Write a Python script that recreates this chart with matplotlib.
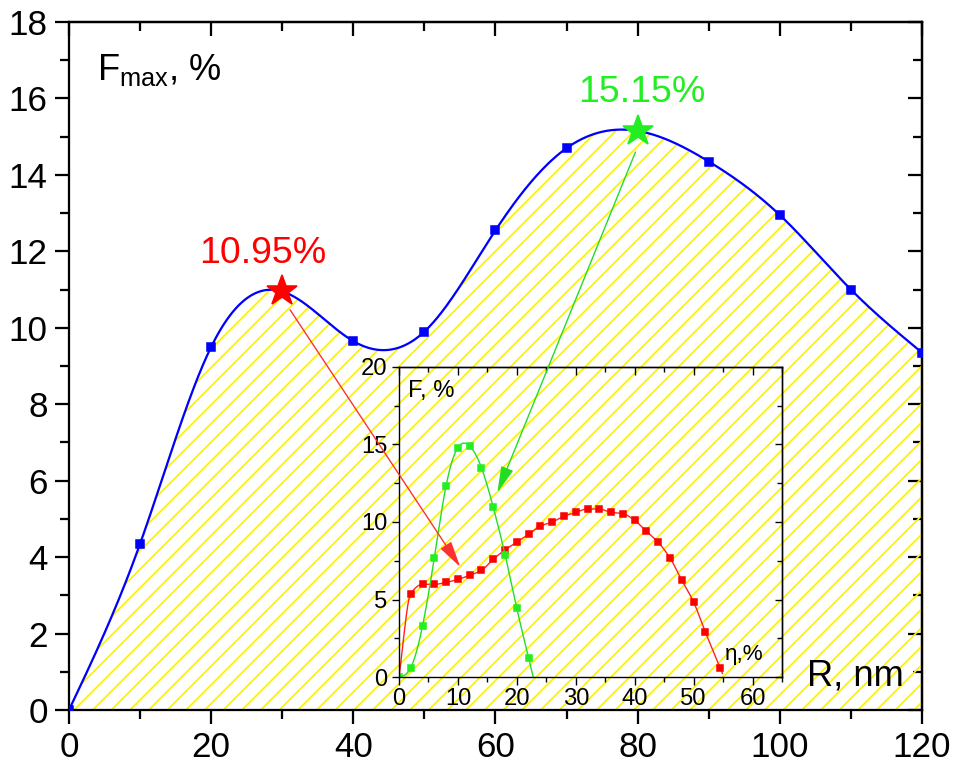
import numpy as np
import matplotlib
matplotlib.use('Agg')
import matplotlib.pyplot as plt
from matplotlib.patches import ConnectionPatch
from matplotlib.ticker import MultipleLocator

DPI = 112
S = 90 / DPI  # sizes below were tuned at 90 dpi

plt.rcParams['font.family'] = ['Liberation Sans', 'DejaVu Sans']
plt.rcParams['mathtext.fontset'] = 'custom'
plt.rcParams['mathtext.rm'] = 'Liberation Sans'
plt.rcParams['hatch.linewidth'] = 1.35 * S

# main curve: F_max vs R
R = [0, 10, 20, 30, 40, 50, 60, 70, 80, 90, 100, 110, 120]
Fmax = [0, 4.35, 9.5, 10.95, 9.65, 9.9, 12.55, 14.7, 15.15, 14.35, 12.95, 11.0, 9.35]
peak_red = (30, 10.95)
peak_green = (80, 15.15)

# inset curves: F vs eta
eta_red = [0, 2, 4, 6, 8, 10, 12, 14, 16, 18, 20, 22, 24, 26, 28, 30, 32, 34,
           36, 38, 40, 42, 44, 46, 48, 50, 52, 54.5]
F_red = [0, 5.38, 5.98, 5.98, 6.1, 6.3, 6.56, 6.88, 7.6, 8.2, 8.7, 9.2, 9.74, 10.0,
         10.37, 10.62, 10.84, 10.84, 10.62, 10.54, 10.1, 9.4, 8.69, 7.68, 6.24,
         4.84, 2.9, 0.6]
eta_green = [0, 2, 4, 6, 8, 10, 12, 14, 16, 18, 20, 22]
F_green = [0, 0.6, 3.3, 7.7, 12.35, 14.8, 14.9, 13.5, 10.95, 7.9, 4.43, 1.23]


# natural cubic spline, just for drawing smooth lines through the points
def spline(x, y, xs):
    x = np.asarray(x, float)
    y = np.asarray(y, float)
    n = len(x)
    h = np.diff(x)
    A = np.zeros((n, n))
    b = np.zeros(n)
    A[0, 0] = A[-1, -1] = 1
    for i in range(1, n - 1):
        A[i, i - 1] = h[i - 1]
        A[i, i] = 2 * (h[i - 1] + h[i])
        A[i, i + 1] = h[i]
        b[i] = 6 * ((y[i + 1] - y[i]) / h[i] - (y[i] - y[i - 1]) / h[i - 1])
    M = np.linalg.solve(A, b)
    idx = np.clip(np.searchsorted(x, xs) - 1, 0, n - 2)
    x0, x1 = x[idx], x[idx + 1]
    hh = x1 - x0
    t0, t1 = x1 - xs, xs - x0
    return (M[idx] * t0 ** 3 + M[idx + 1] * t1 ** 3) / (6 * hh) \
        + (y[idx] / hh - M[idx] * hh / 6) * t0 + (y[idx + 1] / hh - M[idx + 1] * hh / 6) * t1


# monotone cubic (Fritsch-Carlson), no overshoot near the steep start of the red curve
def pchip(x, y, xs):
    x = np.asarray(x, float)
    y = np.asarray(y, float)
    h = np.diff(x)
    d = np.diff(y) / h
    m = np.zeros_like(y)
    m[0], m[-1] = d[0], d[-1]
    for i in range(1, len(x) - 1):
        if d[i - 1] * d[i] > 0:
            w1 = 2 * h[i] + h[i - 1]
            w2 = h[i] + 2 * h[i - 1]
            m[i] = (w1 + w2) / (w1 / d[i - 1] + w2 / d[i])
    idx = np.clip(np.searchsorted(x, xs) - 1, 0, len(x) - 2)
    hh = h[idx]
    t = (xs - x[idx]) / hh
    h00 = 2 * t ** 3 - 3 * t ** 2 + 1
    h10 = t ** 3 - 2 * t ** 2 + t
    h01 = -2 * t ** 3 + 3 * t ** 2
    h11 = t ** 3 - t ** 2
    return h00 * y[idx] + h10 * hh * m[idx] + h01 * y[idx + 1] + h11 * hh * m[idx + 1]


def style_axes(ax, lw, maj, mino, size, pad):
    lw, maj, mino, size, pad = lw * S, maj * S, mino * S, size * S, pad * S
    for s in ax.spines.values():
        s.set_linewidth(lw)
    ax.tick_params(which='major', direction='out', length=maj, width=lw, labelsize=size, pad=pad)
    ax.tick_params(which='minor', direction='out', length=mino, width=lw)
    ax.tick_params(top=False, right=False)
    top = ax.secondary_xaxis('top')
    right = ax.secondary_yaxis('right')
    for sec in (top, right):
        sec.tick_params(which='major', direction='in', length=maj, width=lw,
                        labeltop=False, labelright=False)
        sec.tick_params(which='minor', direction='in', length=mino, width=lw)
    top.xaxis.set_major_locator(ax.xaxis.get_major_locator())
    top.xaxis.set_minor_locator(ax.xaxis.get_minor_locator())
    right.yaxis.set_major_locator(ax.yaxis.get_major_locator())
    right.yaxis.set_minor_locator(ax.yaxis.get_minor_locator())
    top.spines['top'].set_linewidth(lw)
    right.spines['right'].set_linewidth(lw)


fig = plt.figure(figsize=(957 / DPI, 769 / DPI), dpi=DPI)
ax = fig.add_axes([0.0721, 0.0767, 0.8913, 0.8947])

xs = np.linspace(R[0], R[-1], 600)
ys = spline(R, Fmax, xs)
ax.fill_between(xs, 0, ys, facecolor='none', edgecolor='#faf200', hatch='//', linewidth=0)
ax.plot(xs, ys, color='#0000ff', lw=1.8 * S, zorder=3)
ax.plot(R, Fmax, 's', color='#0000ff', ms=6.5 * S, zorder=4)
ax.plot(*peak_red, marker='*', color='#ff0000', ms=26 * S, zorder=5)
ax.plot(*peak_green, marker='*', color='#22ee22', ms=26 * S, zorder=5)
ax.text(27.3, 11.7, '10.95%', color='#ff0000', fontsize=30 * S, ha='center', va='baseline')
ax.text(80.6, 15.9, '15.15%', color='#22ee22', fontsize=30 * S, ha='center', va='baseline')

ax.set_xlim(0, 120)
ax.set_ylim(0, 18)
ax.xaxis.set_major_locator(MultipleLocator(20))
ax.xaxis.set_minor_locator(MultipleLocator(10))
ax.yaxis.set_major_locator(MultipleLocator(2))
ax.yaxis.set_minor_locator(MultipleLocator(1))
style_axes(ax, 1.8, 11, 7, 28, 6)
ax.text(0.033, 0.916, r'F$_{\mathrm{max}}$, %', transform=ax.transAxes, fontsize=29 * S,
        ha='left', va='baseline')
ax.text(0.865, 0.036, 'R, nm', transform=ax.transAxes, fontsize=29 * S, ha='left', va='baseline')

# inset
axi = fig.add_axes([0.4169, 0.1196, 0.4002, 0.4032])
axi.set_facecolor('none')
xr = np.linspace(0, 54.9, 400)
axi.plot(xr, pchip(eta_red, F_red, xr), color='#ff2020', lw=1.1 * S)
axi.plot(eta_red[1:], F_red[1:], 's', color='#ff0000', ms=5.5 * S)
xg = np.linspace(0, 23.2, 300)
axi.plot(xg, spline(eta_green, F_green, xg), color='#22dd22', lw=1.1 * S)
axi.plot(eta_green, F_green, 's', color='#22ee22', ms=5.5 * S)
axi.set_xlim(0, 65)
axi.set_ylim(0, 20)
axi.xaxis.set_major_locator(MultipleLocator(10))
axi.xaxis.set_minor_locator(MultipleLocator(5))
axi.yaxis.set_major_locator(MultipleLocator(5))
axi.yaxis.set_minor_locator(MultipleLocator(2.5))
style_axes(axi, 1.1, 6, 4, 19, 3)
axi.text(0.023, 0.903, 'F, %', transform=axi.transAxes, fontsize=19 * S, ha='left', va='baseline')
axi.text(0.85, 0.055, 'η,%', transform=axi.transAxes, fontsize=18 * S, ha='left', va='baseline')

# arrows from the peaks to the inset curves
for start, end, col in (((31.1, 10.47), (10.4, 7.1), '#ff3030'),
                        ((79.7, 14.6), (16.7, 11.9), '#22dd22')):
    con = ConnectionPatch(xyA=start, coordsA=ax.transData, xyB=end, coordsB=axi.transData,
                          arrowstyle='-|>,head_length=0.9,head_width=0.22', color=col,
                          lw=1.1 * S, mutation_scale=20 * S, shrinkA=0, shrinkB=0)
    fig.add_artist(con)

fig.savefig('out.png', dpi=DPI)
